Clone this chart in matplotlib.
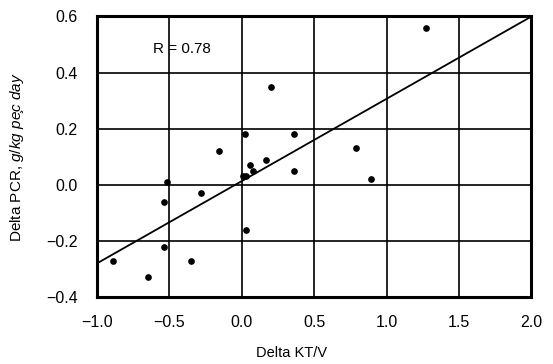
import matplotlib
matplotlib.use("Agg")
import matplotlib.pyplot as plt
import numpy as np

plt.rcParams['font.family'] = ['Liberation Sans', 'DejaVu Sans']
plt.rcParams['mathtext.fontset'] = 'custom'
plt.rcParams['mathtext.rm'] = 'Liberation Sans'
plt.rcParams['mathtext.it'] = 'Liberation Sans:italic'

# change in KT/V vs change in PCR
delta_ktv = [1.27, 0.20, 0.02, -0.16, 0.06, 0.08, 0.17, 0.005, 0.03, 0.36, 0.36,
             0.79, 0.89, -0.52, -0.54, -0.28, 0.03, -0.54, -0.35, -0.89, -0.65]
delta_pcr = [0.56, 0.35, 0.18, 0.12, 0.07, 0.05, 0.09, 0.03, 0.03, 0.18, 0.05,
             0.13, 0.02, 0.01, -0.06, -0.03, -0.16, -0.22, -0.27, -0.27, -0.33]

# regression line end points
fit_x = [-1.0, 2.0]
fit_y = [-0.28, 0.60]

x_ticks = [-1.0, -0.5, 0.0, 0.5, 1.0, 1.5, 2.0]
y_ticks = [-0.4, -0.2, 0.0, 0.2, 0.4, 0.6]

fig = plt.figure(figsize=(5.53, 3.64), dpi=100)
ax = fig.add_axes([0.1754, 0.184, 0.7856, 0.7707])

ax.plot(delta_ktv, delta_pcr, 'o', color='black', markersize=3.8, zorder=3)
ax.plot(fit_x, fit_y, color='black', linewidth=1.3, zorder=2)

ax.set_xlim(-1.0, 2.0)
ax.set_ylim(-0.4, 0.6)
ax.set_xticks(x_ticks)
ax.set_yticks(y_ticks)
ax.set_xticklabels(['\u22121.0', '\u22120.5', '0.0', '0.5', '1.0', '1.5', '2.0'])
ax.set_yticklabels(['\u22120.4', '\u22120.2', '0.0', '0.2', '0.4', '0.6'])
ax.tick_params(axis='x', length=0, labelsize=11.5, pad=13)
ax.tick_params(axis='y', length=0, labelsize=11.5, pad=14)
ax.grid(True, color='black', linewidth=1.2)
ax.set_axisbelow(True)
for s in ax.spines.values():
    s.set_linewidth(2.2)

ax.text(-0.41, 0.485, 'R = 0.78', ha='center', va='center', fontsize=11)

# x label sits well below the ticks in the original
fig.text(292 / 553, 1 - 353 / 364, 'Delta KT/V', ha='center', va='center', fontsize=10.5)
ax.set_ylabel(r'Delta PCR, $\mathit{g/kg\ pe\c{c}\ day}$', fontsize=11, labelpad=14)

fig.savefig('out.png', dpi=100)
